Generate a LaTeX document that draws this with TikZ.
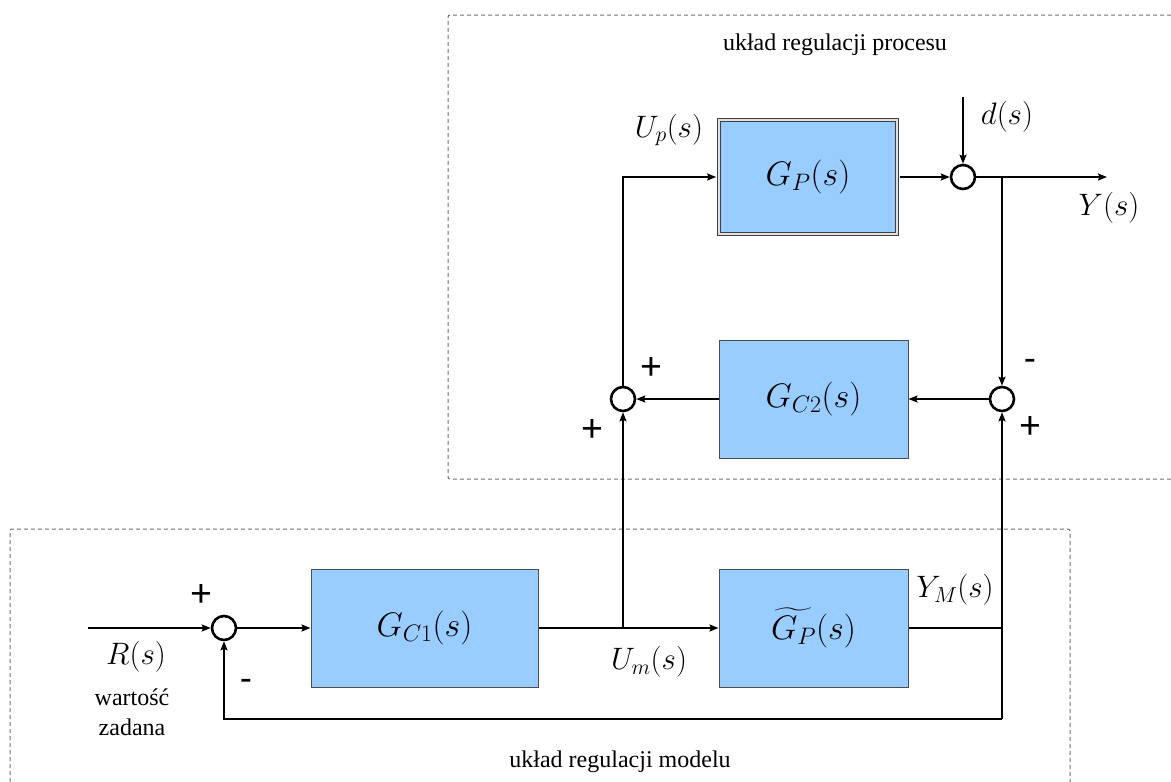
\documentclass[tikz,border=0pt]{standalone}
\usepackage{fix-cm}
\usepackage{amsmath}
\usepackage{fontspec}
\setmainfont{Liberation Serif}
\newfontfamily\signfont{Carlito}
\usetikzlibrary{arrows.meta}
\definecolor{blockblue}{RGB}{153,204,255}
\definecolor{framegray}{RGB}{110,110,110}

\begin{document}
\begin{tikzpicture}[x=1pt,y=-1pt,
  blk/.style={draw=black!70, line width=1pt, fill=blockblue, minimum width=189pt,
    minimum height=118pt, inner sep=0pt, font=\fontsize{34}{40}\selectfont},
  sumj/.style={circle, draw=black, line width=2.6pt, minimum size=24pt, inner sep=0pt, fill=white},
  wire/.style={line width=1.8pt, black},
  arr/.style={wire, -{Stealth[length=9pt,width=7pt,inset=1.5pt]}},
  lbl/.style={font=\fontsize{31}{36}\selectfont, inner sep=0pt},
  txt/.style={font=\fontsize{24}{26}\selectfont, inner sep=0pt, align=center},
  plus/.style={font=\signfont\fontsize{40}{40}\selectfont, inner sep=0pt},
  minus/.style={font=\signfont\fontsize{38}{38}\selectfont, inner sep=0pt},
  frame/.style={draw=framegray, line width=1pt, dash pattern=on 4pt off 3pt}
]
\useasboundingbox (0,0) rectangle (1171,782);

% group frames
\draw[frame, rounded corners=2pt] (1171,15) -- (448,15) -- (448,479) -- (1171,479);
\draw[frame, rounded corners=2pt] (10,782) -- (10,529) -- (1070,529) -- (1070,782);
\node[txt] (tproc) at (835,45) {układ regulacji procesu};
\node[txt] (tmod) at (620,762) {układ regulacji modelu};

% blocks
\node[blk, draw=black!75, double=black!12, double distance=2.4pt, line width=1.1pt,
      minimum width=178pt, minimum height=114pt] (GP) at (808,177) {$G_P(s)$};
\node[blk] (GC2) at (813.5,399) {$G_{C2}(s)$};
\node[blk, minimum width=227pt] (GC1) at (424.5,628) {$G_{C1}(s)$};
\node[blk] (GPt) at (813.5,628) {$\widetilde{G_P}(s)$};

% summing junctions
\node[sumj] (sR) at (224,628) {};
\node[sumj] (sL) at (623,399) {};
\node[sumj] (s2) at (1002,399) {};
\node[sumj] (sD) at (963,177) {};

% free ends and branch points
\coordinate (rin) at (88,628);
\coordinate (jm) at (623,628);
\coordinate (dtop) at (963,97);
\coordinate (yout) at (1107,177);
\coordinate (jy) at (1002,177);
\coordinate (jb) at (1002,628);
\coordinate (fbr) at (1002,719);

% model loop
\draw[arr] (rin) -- (sR);
\draw[arr] (sR) -- (GC1);
\draw[wire] (GC1) -- (jm);
\draw[arr] (jm) -- (GPt);
\draw[wire] (GPt) -- (jb);
\draw[arr] (fbr) -- (s2);
\draw[arr] (fbr) -| (sR);

% process loop
\draw[arr] (jm) -- (sL);
\draw[arr, shorten >=2.3pt] (sL) |- (GP.west);
\draw[arr, shorten <=2.3pt] (GP.east) -- (sD);
\draw[arr] (dtop) -- (sD);
\draw[arr] (sD) -- (yout);
\draw[arr] (jy) -- (s2);
\draw[arr] (s2) -- (GC2);
\draw[arr] (GC2) -- (sL);

% signal labels
\node[lbl] (lUp) at (669,130) {$U_p(s)$};
\node[lbl] (ld) at (1007,117) {$d(s)$};
\node[lbl] (lY) at (1109,208) {$Y(s)$};
\node[lbl] (lYM) at (955,590) {$Y_M(s)$};
\node[lbl] (lUm) at (649,662) {$U_m(s)$};
\node[lbl] (lR) at (136,657) {$R(s)$};
\node[txt, font=\fontsize{24}{30}\selectfont] (lset) at (132,712) {wartość\\zadana};

% signs at the junctions
\node[plus] (pL1) at (651,368) {+};
\node[plus] (pL2) at (592,430) {+};
\node[minus] (m2) at (1030,365) {-};
\node[plus] (p2) at (1030,427) {+};
\node[plus] (pR) at (201,595) {+};
\node[minus] (mR) at (246,685) {-};
\end{tikzpicture}
\end{document}
